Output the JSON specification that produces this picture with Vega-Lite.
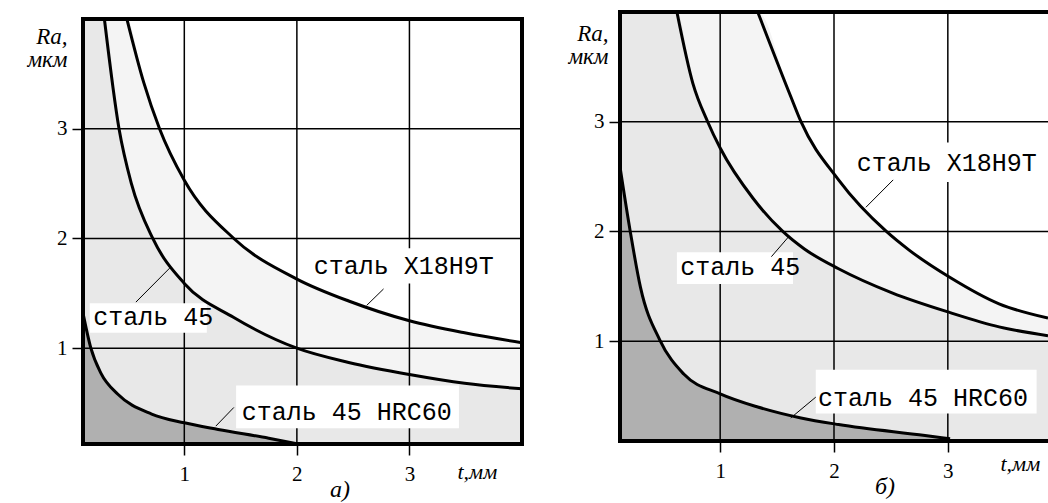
{
  "$schema": "https://vega.github.io/schema/vega-lite/v6.json",
  "background": "white",
  "padding": {"left": 26, "top": 6, "right": 0, "bottom": 0},
  "spacing": 39,
  "config": {
    "view": {"stroke": null},
    "axis": {
      "domain": false, "grid": false, "ticks": true, "tickColor": "black", "tickSize": 11, "tickWidth": 1.5,
      "labelFont": "Liberation Serif", "labelFontSize": 21, "labelColor": "black",
      "titleFont": "Liberation Serif", "titleFontStyle": "italic", "titleFontWeight": "normal", "titleColor": "black"
    },
    "axisX": {"labelPadding": 8, "titleFontSize": 22, "titleAlign": "left", "titleBaseline": "alphabetic"},
    "axisY": {"labelPadding": 5, "titleAngle": 0, "titleAlign": "right", "titleBaseline": "alphabetic", "titleFontSize": 23, "titleLineHeight": 23},
    "title": {"font": "Liberation Serif", "fontStyle": "italic", "fontWeight": "normal", "fontSize": 24, "color": "black", "orient": "bottom", "anchor": "start", "frame": "group", "offset": -6}
  },
  "datasets": {
    "L": [
      {"s": "x", "c": 1, "t": 0.1, "Ra": 4},
      {"s": "x", "t": 0.49, "Ra": 4.0}, {"s": "x", "t": 0.64, "Ra": 3.42}, {"s": "x", "t": 0.78, "Ra": 3.0},
      {"s": "x", "t": 1.0, "Ra": 2.53}, {"s": "x", "t": 1.44, "Ra": 2.0}, {"s": "x", "t": 2.0, "Ra": 1.63},
      {"s": "x", "t": 2.46, "Ra": 1.43}, {"s": "x", "t": 3.0, "Ra": 1.25}, {"s": "x", "t": 3.49, "Ra": 1.14},
      {"s": "x", "t": 4.0, "Ra": 1.05},
      {"s": "m", "c": 1, "t": 0.1, "Ra": 4},
      {"s": "m", "t": 0.29, "Ra": 4.0}, {"s": "m", "t": 0.42, "Ra": 3.0}, {"s": "m", "t": 0.53, "Ra": 2.5},
      {"s": "m", "t": 0.72, "Ra": 2.0}, {"s": "m", "t": 1.0, "Ra": 1.59}, {"s": "m", "t": 1.44, "Ra": 1.28},
      {"s": "m", "t": 2.0, "Ra": 1.0}, {"s": "m", "t": 2.46, "Ra": 0.87}, {"s": "m", "t": 3.0, "Ra": 0.76},
      {"s": "m", "t": 3.49, "Ra": 0.68}, {"s": "m", "t": 4.0, "Ra": 0.63},
      {"s": "h", "t": 0.1, "Ra": 1.32}, {"s": "h", "t": 0.17, "Ra": 1.0}, {"s": "h", "t": 0.26, "Ra": 0.77},
      {"s": "h", "t": 0.41, "Ra": 0.58}, {"s": "h", "t": 0.71, "Ra": 0.4}, {"s": "h", "t": 1.0, "Ra": 0.32},
      {"s": "h", "t": 1.3, "Ra": 0.26}, {"s": "h", "t": 1.75, "Ra": 0.18}, {"s": "h", "t": 2.0, "Ra": 0.13}
    ],
    "LG": [
      {"t": 1, "t2": 1, "Ra": 0.127, "Ra2": 4}, {"t": 2, "t2": 2, "Ra": 0.127, "Ra2": 4}, {"t": 3, "t2": 3, "Ra": 0.127, "Ra2": 4},
      {"t": 0.1, "t2": 4, "Ra": 1, "Ra2": 1}, {"t": 0.1, "t2": 4, "Ra": 2, "Ra2": 2}, {"t": 0.1, "t2": 4, "Ra": 3, "Ra2": 3}
    ],
    "LF": [
      {"t": 0.1, "t2": 4, "Ra": 4, "Ra2": 4}, {"t": 0.1, "t2": 4, "Ra": 0.127, "Ra2": 0.127},
      {"t": 0.1, "t2": 0.1, "Ra": 0.127, "Ra2": 4}, {"t": 4, "t2": 4, "Ra": 0.127, "Ra2": 4}
    ],
    "LB": [
      {"t": 2.13, "t2": 3.84, "Ra": 1.91, "Ra2": 1.59},
      {"t": 0.16, "t2": 1.2, "Ra": 1.41, "Ra2": 1.14},
      {"t": 1.46, "t2": 3.44, "Ra": 0.66, "Ra2": 0.27}
    ],
    "LL": [
      {"t": 2.62, "t2": 2.77, "Ra": 1.39, "Ra2": 1.54},
      {"t": 0.57, "t2": 0.87, "Ra": 1.42, "Ra2": 1.73},
      {"t": 1.28, "t2": 1.44, "Ra": 0.29, "Ra2": 0.46}
    ],
    "LT": [
      {"t": 2.15, "Ra": 1.75, "label": "сталь Х18Н9Т"},
      {"t": 0.19, "Ra": 1.28, "label": "сталь 45"},
      {"t": 1.51, "Ra": 0.42, "label": "сталь 45 HRC60"}
    ],
    "R": [
      {"s": "x", "c": 1, "t": 0.12, "Ra": 4},
      {"s": "x", "t": 1.33, "Ra": 4.0}, {"s": "x", "t": 1.62, "Ra": 3.23}, {"s": "x", "t": 1.71, "Ra": 3.0},
      {"s": "x", "t": 2.04, "Ra": 2.47}, {"s": "x", "t": 2.46, "Ra": 2.0}, {"s": "x", "t": 2.66, "Ra": 1.83},
      {"s": "x", "t": 3.02, "Ra": 1.58}, {"s": "x", "t": 3.45, "Ra": 1.34}, {"s": "x", "t": 3.88, "Ra": 1.21},
      {"s": "m", "c": 1, "t": 0.12, "Ra": 4},
      {"s": "m", "t": 0.62, "Ra": 4.0}, {"s": "m", "t": 0.76, "Ra": 3.35}, {"s": "m", "t": 0.89, "Ra": 3.0},
      {"s": "m", "t": 1.0, "Ra": 2.76}, {"s": "m", "t": 1.29, "Ra": 2.3}, {"s": "m", "t": 1.55, "Ra": 2.0},
      {"s": "m", "t": 1.74, "Ra": 1.84}, {"s": "m", "t": 2.04, "Ra": 1.66}, {"s": "m", "t": 2.51, "Ra": 1.44},
      {"s": "m", "t": 3.02, "Ra": 1.26}, {"s": "m", "t": 3.45, "Ra": 1.13}, {"s": "m", "t": 3.88, "Ra": 1.05},
      {"s": "h", "t": 0.12, "Ra": 2.59}, {"s": "h", "t": 0.21, "Ra": 2.0}, {"s": "h", "t": 0.3, "Ra": 1.49},
      {"s": "h", "t": 0.47, "Ra": 1.01}, {"s": "h", "t": 0.68, "Ra": 0.7}, {"s": "h", "t": 1.0, "Ra": 0.52},
      {"s": "h", "t": 1.33, "Ra": 0.4}, {"s": "h", "t": 1.71, "Ra": 0.3}, {"s": "h", "t": 2.04, "Ra": 0.24},
      {"s": "h", "t": 2.8, "Ra": 0.14}, {"s": "h", "t": 3.02, "Ra": 0.11}
    ],
    "RG": [
      {"t": 1, "t2": 1, "Ra": 0.09, "Ra2": 4}, {"t": 2, "t2": 2, "Ra": 0.09, "Ra2": 4}, {"t": 3, "t2": 3, "Ra": 0.09, "Ra2": 4},
      {"t": 0.12, "t2": 3.88, "Ra": 1, "Ra2": 1}, {"t": 0.12, "t2": 3.88, "Ra": 2, "Ra2": 2}, {"t": 0.12, "t2": 3.88, "Ra": 3, "Ra2": 3}
    ],
    "RF": [
      {"t": 0.12, "t2": 3.88, "Ra": 4, "Ra2": 4}, {"t": 0.12, "t2": 3.88, "Ra": 0.09, "Ra2": 0.09},
      {"t": 0.12, "t2": 0.12, "Ra": 0.09, "Ra2": 4}
    ],
    "RB": [
      {"t": 2.15, "t2": 3.87, "Ra": 2.81, "Ra2": 2.45},
      {"t": 0.62, "t2": 1.64, "Ra": 1.81, "Ra2": 1.52},
      {"t": 1.84, "t2": 3.78, "Ra": 0.74, "Ra2": 0.34}
    ],
    "RL": [
      {"t": 2.28, "t2": 2.52, "Ra": 2.22, "Ra2": 2.47},
      {"t": 1.45, "t2": 1.6, "Ra": 1.77, "Ra2": 1.95},
      {"t": 1.62, "t2": 1.84, "Ra": 0.3, "Ra2": 0.49}
    ],
    "RT": [
      {"t": 2.2, "Ra": 2.62, "label": "сталь Х18Н9Т"},
      {"t": 0.65, "Ra": 1.68, "label": "сталь 45"},
      {"t": 1.86, "Ra": 0.48, "label": "сталь 45 HRC60"}
    ]
  },
  "hconcat": [
    {
      "width": 439,
      "height": 432,
      "title": {"text": "а)", "dx": 247},
      "encoding": {
        "x": {"field": "t", "type": "quantitative", "scale": {"domain": [0.1, 4], "nice": false, "zero": false},
              "axis": {"values": [1, 2, 3], "format": "d", "title": "t,мм", "titleX": 374, "titleY": 34}},
        "y": {"field": "Ra", "type": "quantitative", "scale": {"domain": [0.127, 4.064], "nice": false, "zero": false},
              "axis": {"values": [1, 2, 3], "format": "d", "title": ["Ra,", "мкм"], "titleX": -16, "titleY": 31}}
      },
      "layer": [
        {"data": {"name": "L"}, "transform": [{"filter": "datum.s == 'x'"}],
         "mark": {"type": "area", "interpolate": "monotone", "color": "#f4f4f4"}, "encoding": {"y2": {"datum": 0.127}}},
        {"data": {"name": "L"}, "transform": [{"filter": "datum.s == 'm'"}],
         "mark": {"type": "area", "interpolate": "monotone", "color": "#e8e8e8"}, "encoding": {"y2": {"datum": 0.127}}},
        {"data": {"name": "L"}, "transform": [{"filter": "datum.s == 'h'"}],
         "mark": {"type": "area", "interpolate": "monotone", "color": "#b0b0b0"}, "encoding": {"y2": {"datum": 0.127}}},
        {"data": {"name": "LG"}, "mark": {"type": "rule", "color": "black", "strokeWidth": 1.5},
         "encoding": {"x2": {"field": "t2"}, "y2": {"field": "Ra2"}}},
        {"data": {"name": "LB"}, "mark": {"type": "rect", "color": "white"},
         "encoding": {"x2": {"field": "t2"}, "y2": {"field": "Ra2"}}},
        {"data": {"name": "L"}, "transform": [{"filter": "!datum.c"}],
         "mark": {"type": "line", "interpolate": "monotone", "color": "black", "strokeWidth": 3},
         "encoding": {"detail": {"field": "s"}}},
        {"data": {"name": "LL"}, "mark": {"type": "rule", "color": "black", "strokeWidth": 1},
         "encoding": {"x2": {"field": "t2"}, "y2": {"field": "Ra2"}}},
        {"data": {"name": "LT"}, "mark": {"type": "text", "align": "left", "baseline": "middle", "font": "Liberation Mono", "fontSize": 25, "color": "black"},
         "encoding": {"text": {"field": "label"}}},
        {"data": {"name": "LF"}, "mark": {"type": "rule", "color": "black", "strokeWidth": 4, "strokeCap": "square"},
         "encoding": {"x2": {"field": "t2"}, "y2": {"field": "Ra2"}}}
      ]
    },
    {
      "width": 428,
      "height": 429,
      "title": {"text": "б)", "dx": 255},
      "encoding": {
        "x": {"field": "t", "type": "quantitative", "scale": {"domain": [0.12, 3.88], "nice": false, "zero": false},
              "axis": {"values": [1, 2, 3], "format": "d", "title": "t,мм", "titleX": 380, "titleY": 29}},
        "y": {"field": "Ra", "type": "quantitative", "scale": {"domain": [0.09, 4], "nice": false, "zero": false},
              "axis": {"values": [1, 2, 3], "format": "d", "title": ["Ra,", "мкм"], "titleX": -12, "titleY": 28}}
      },
      "layer": [
        {"data": {"name": "R"}, "transform": [{"filter": "datum.s == 'x'"}],
         "mark": {"type": "area", "interpolate": "monotone", "color": "#f4f4f4"}, "encoding": {"y2": {"datum": 0.09}}},
        {"data": {"name": "R"}, "transform": [{"filter": "datum.s == 'm'"}],
         "mark": {"type": "area", "interpolate": "monotone", "color": "#e8e8e8"}, "encoding": {"y2": {"datum": 0.09}}},
        {"data": {"name": "R"}, "transform": [{"filter": "datum.s == 'h'"}],
         "mark": {"type": "area", "interpolate": "monotone", "color": "#b0b0b0"}, "encoding": {"y2": {"datum": 0.09}}},
        {"data": {"name": "RG"}, "mark": {"type": "rule", "color": "black", "strokeWidth": 1.5},
         "encoding": {"x2": {"field": "t2"}, "y2": {"field": "Ra2"}}},
        {"data": {"name": "RB"}, "mark": {"type": "rect", "color": "white"},
         "encoding": {"x2": {"field": "t2"}, "y2": {"field": "Ra2"}}},
        {"data": {"name": "R"}, "transform": [{"filter": "!datum.c"}],
         "mark": {"type": "line", "interpolate": "monotone", "color": "black", "strokeWidth": 3},
         "encoding": {"detail": {"field": "s"}}},
        {"data": {"name": "RL"}, "mark": {"type": "rule", "color": "black", "strokeWidth": 1},
         "encoding": {"x2": {"field": "t2"}, "y2": {"field": "Ra2"}}},
        {"data": {"name": "RT"}, "mark": {"type": "text", "align": "left", "baseline": "middle", "font": "Liberation Mono", "fontSize": 25, "color": "black"},
         "encoding": {"text": {"field": "label"}}},
        {"data": {"name": "RF"}, "mark": {"type": "rule", "color": "black", "strokeWidth": 4, "strokeCap": "square"},
         "encoding": {"x2": {"field": "t2"}, "y2": {"field": "Ra2"}}}
      ]
    }
  ]
}
